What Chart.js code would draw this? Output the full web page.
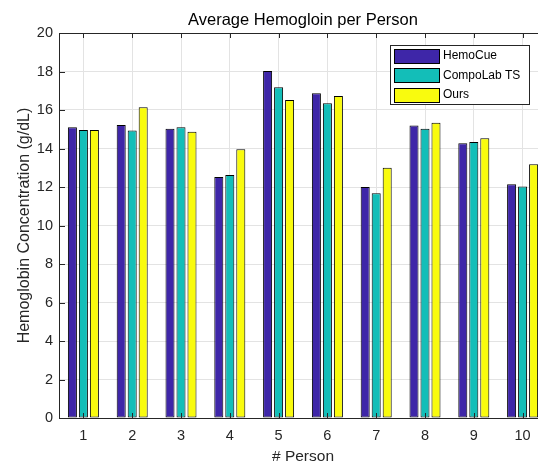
<!DOCTYPE html>
<html>
<head>
<meta charset="utf-8">
<script src="https://cdn.jsdelivr.net/npm/chart.js@4.4.1/dist/chart.umd.min.js"></script>
<style>
  html, body { margin: 0; padding: 0; background: #fff; overflow: hidden; }
  canvas { display: block; }
</style>
</head>
<body>
<canvas id="myChart" width="548" height="470"></canvas>
<script>
// data
const persons = ["1", "2", "3", "4", "5", "6", "7", "8", "9", "10"];
const hemoCue = [15.1, 15.22, 15.03, 12.52, 18.03, 16.87, 12.0, 15.2, 14.27, 12.14];
const compoLab = [14.96, 14.93, 15.1, 12.62, 17.18, 16.35, 11.67, 15.03, 14.34, 12.03];
const ours = [14.96, 16.14, 14.87, 13.96, 16.52, 16.73, 13.0, 15.34, 14.53, 13.18];
const yTicks = [0, 2, 4, 6, 8, 10, 12, 14, 16, 18, 20];

const FONT = "'Liberation Sans', Arial, Helvetica, sans-serif";
const AXIS = "#262626";

// MATLAB style box: top/right edges, inward ticks, boxed legend
const matlabBox = {
	id: "matlabBox",
	afterDatasetsDraw(chart) {
		const ctx = chart.ctx;
		const area = chart.chartArea;
		const x = chart.scales.x;
		const y = chart.scales.y;
		ctx.save();
		ctx.strokeStyle = AXIS;
		ctx.lineWidth = 1;
		ctx.beginPath();
		yTicks.forEach((v) => {
			const py = Math.round(y.getPixelForValue(v)) + 0.5;
			ctx.moveTo(area.left, py);
			ctx.lineTo(area.left + 6, py);
			ctx.moveTo(area.right, py);
			ctx.lineTo(area.right - 6, py);
		});
		persons.forEach((p, i) => {
			const px = Math.round(x.getPixelForValue(i)) + 0.5;
			ctx.moveTo(px, area.bottom);
			ctx.lineTo(px, area.bottom - 5);
			ctx.moveTo(px, area.top);
			ctx.lineTo(px, area.top + 5);
		});
		// top and right edges
		ctx.moveTo(area.left, Math.round(area.top) + 0.5);
		ctx.lineTo(area.right, Math.round(area.top) + 0.5);
		ctx.moveTo(Math.round(area.right) - 0.5, area.top);
		ctx.lineTo(Math.round(area.right) - 0.5, area.bottom);
		ctx.stroke();

		// legend
		ctx.fillStyle = "#fff";
		ctx.fillRect(390.5, 45.5, 139, 59);
		ctx.strokeRect(390.5, 45.5, 139, 59);
		ctx.font = "12px " + FONT;
		ctx.textBaseline = "middle";
		chart.data.datasets.forEach((ds, i) => {
			const top = 48.5 + i * 19.5;
			ctx.fillStyle = ds.backgroundColor;
			ctx.fillRect(394.5, Math.round(top) + 0.5, 45, 14);
			ctx.strokeStyle = "#000";
			ctx.strokeRect(394.5, Math.round(top) + 0.5, 45, 14);
			ctx.fillStyle = "#000";
			ctx.fillText(ds.label, 443, top + 7.5);
		});
		ctx.restore();
	},
};

const chart = new Chart(document.getElementById("myChart"), {
	type: "bar",
	data: {
		labels: persons,
		datasets: [
			{ label: "HemoCue", data: hemoCue, backgroundColor: "#3E26A8" },
			{ label: "CompoLab TS", data: compoLab, backgroundColor: "#13BEB8" },
			{ label: "Ours", data: ours, backgroundColor: "#F9FB0E" },
		].map((d) => Object.assign(d, {
			borderColor: "#000",
			borderWidth: 1,
			borderSkipped: false,
			categoryPercentage: 0.676,
			barPercentage: 0.82,
		})),
	},
	options: {
		responsive: false,
		devicePixelRatio: 1,
		animation: false,
		layout: { padding: { left: 0, right: 1, top: 0, bottom: 0 } },
		plugins: {
			legend: { display: false },
			tooltip: { enabled: false },
			title: {
				display: true,
				fullSize: false,
				text: "Average Hemogloin per Person",
				color: "#000",
				font: { family: FONT, size: 16.5, weight: "normal" },
				padding: { top: 11, bottom: 2.2 },
			},
		},
		scales: {
			x: {
				grid: { color: "#e3e3e3", offset: false, drawTicks: false },
				border: { color: AXIS },
				ticks: { color: AXIS, font: { family: FONT, size: 14.5 }, padding: 9 },
				title: {
					display: true,
					text: "# Person",
					color: AXIS,
					font: { family: FONT, size: 15.5 },
					padding: { top: 0, bottom: 4.2 },
				},
				afterFit(scale) { scale.height = 52; },
			},
			y: {
				min: 0,
				max: 20,
				grid: { color: "#e3e3e3", drawTicks: false },
				border: { color: AXIS },
				ticks: {
					color: AXIS,
					font: { family: FONT, size: 14.5 },
					padding: 6,
					stepSize: 2,
				},
				afterBuildTicks(scale) { scale.ticks = yTicks.map((v) => ({ value: v })); },
				title: {
					display: true,
					text: "Hemoglobin Concentration (g/dL)",
					color: AXIS,
					font: { family: FONT, size: 16 },
					padding: { top: 14.5, bottom: 0 },
				},
				afterFit(scale) { scale.width = 59; },
			},
		},
	},
	plugins: [matlabBox],
});
</script>
</body>
</html>
